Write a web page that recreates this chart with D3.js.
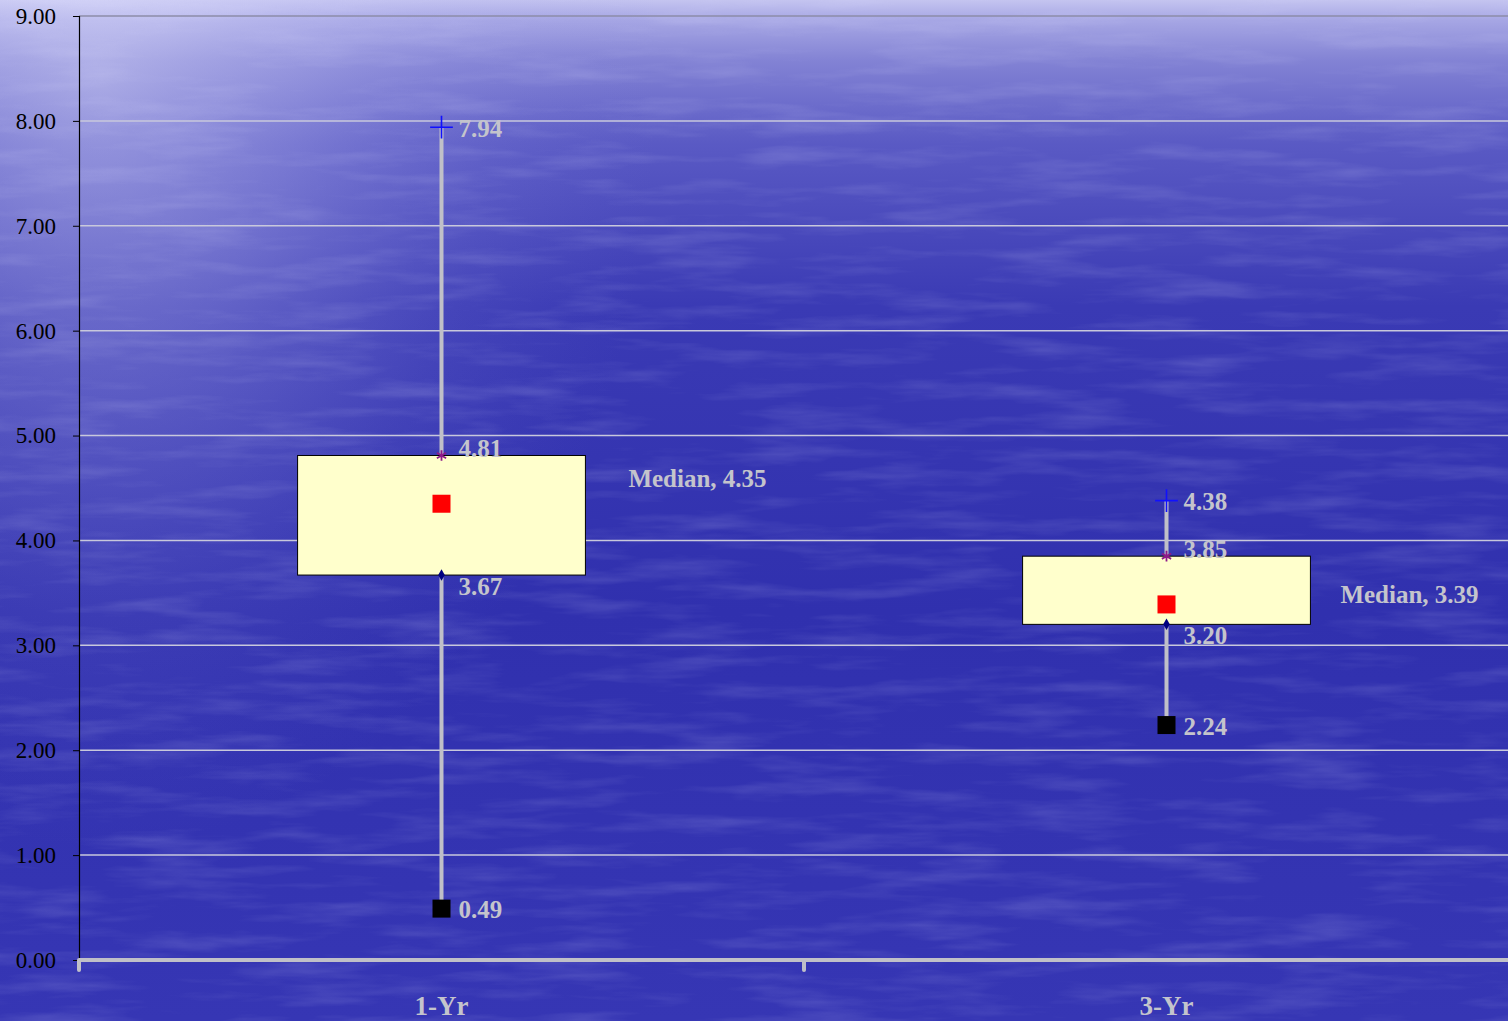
<!DOCTYPE html>
<html>
<head>
<meta charset="utf-8">
<script src="https://cdn.jsdelivr.net/npm/d3@7"></script>
<style>
  html, body { margin: 0; padding: 0; background: #3232b0; overflow: hidden; }
  svg { display: block; }
</style>
</head>
<body>
<svg id="chart" width="1508" height="1021"></svg>
<script>
// Box-plot statistics per horizon
const categories = ["1-Yr", "3-Yr"];
const maxVals    = [7.94, 4.38];
const q3Vals     = [4.81, 3.85];
const medianVals = [4.35, 3.39];
const q1Vals     = [3.67, 3.20];
const minVals    = [0.49, 2.24];
const yTicks     = [0, 1, 2, 3, 4, 5, 6, 7, 8, 9];

// label placement for the median call-outs (pixels from box edge / median)
const medianLabelDx = [43, 30];
const medianLabelDy = [-25, -10];

const W = 1508, H = 1021;
const svg = d3.select("#chart");
const serif = "'Liberation Serif', 'Times New Roman', serif";
const labelGray = "#c4c4cc";

// ---- background: sea-like blue with a bright haze in the top-left ----
const defs = svg.append("defs");
const lg = defs.append("linearGradient").attr("id", "sky")
  .attr("x1", 0).attr("y1", 0).attr("x2", 0).attr("y2", 1);
[[0, "#c4c4f0"], [0.02, "#a6a6e4"], [0.06, "#8282d4"], [0.14, "#5a5ac4"],
 [0.3, "#3a3ab4"], [0.6, "#3030ae"], [1, "#3636b4"]]
  .forEach(([o, c]) => lg.append("stop").attr("offset", o).attr("stop-color", c));

const rg = defs.append("radialGradient").attr("id", "haze")
  .attr("gradientUnits", "userSpaceOnUse")
  .attr("cx", 100).attr("cy", 80).attr("r", 700)
  .attr("gradientTransform", "translate(100,80) scale(0.8,1.1) translate(-100,-80)");
[[0, "#e8e8ff", 0.45], [0.35, "#d0d0fa", 0.28], [0.7, "#a8a8ee", 0.1], [1, "#8080e0", 0]]
  .forEach(([o, c, a]) => rg.append("stop").attr("offset", o)
    .attr("stop-color", c).attr("stop-opacity", a));

const ripple = defs.append("filter").attr("id", "ripple")
  .attr("x", 0).attr("y", 0).attr("width", 1).attr("height", 1);
ripple.append("feTurbulence").attr("type", "fractalNoise")
  .attr("baseFrequency", "0.008 0.06").attr("numOctaves", 4).attr("seed", 7);
ripple.append("feColorMatrix").attr("type", "matrix")
  .attr("values", "0 0 0 0 0.75  0 0 0 0 0.75  0 0 0 0 1  0 0 0 1.1 -0.5");

svg.append("rect").attr("width", W).attr("height", H).attr("fill", "url(#sky)");
svg.append("rect").attr("width", W).attr("height", H).attr("fill", "url(#haze)");
svg.append("rect").attr("width", W).attr("height", H)
  .attr("filter", "url(#ripple)").attr("opacity", 0.3);

// ---- scales ----
const x = d3.scaleBand().domain(categories).range([79, 1529]).paddingInner(0).paddingOuter(0);
const y = d3.scaleLinear().domain([0, 9]).range([960, 16]);
const cx = c => x(c) + x.bandwidth() / 2;
const boxW = x.bandwidth() * 0.397;

// ---- gridlines ----
svg.append("g").selectAll("line").data(yTicks.filter(t => t > 0)).join("line")
  .attr("x1", 79).attr("x2", W)
  .attr("y1", d => y(d)).attr("y2", d => y(d))
  .attr("stroke", d => d === 9 ? "#8c8ca8" : "#c8c8dc")
  .attr("stroke-width", 1.5);

// ---- y axis ----
const yAxis = svg.append("g").attr("transform", "translate(79,0)")
  .call(d3.axisLeft(y).tickValues(yTicks).tickFormat(d3.format(".2f"))
    .tickSize(6).tickPadding(17));
yAxis.select(".domain").attr("stroke", "#000").attr("stroke-width", 1.2);
yAxis.selectAll(".tick line").attr("stroke", "#000");
yAxis.selectAll("text").attr("font-family", serif).attr("font-size", 23)
  .attr("fill", "#000");

// ---- whiskers (behind boxes) ----
const idx = categories.map((c, i) => i);
svg.append("g").selectAll("line").data(idx).join("line")
  .attr("x1", i => cx(categories[i])).attr("x2", i => cx(categories[i]))
  .attr("y1", i => y(maxVals[i])).attr("y2", i => y(minVals[i]))
  .attr("stroke", "#c0c0c8").attr("stroke-width", 4);

// ---- boxes ----
svg.append("g").selectAll("rect").data(idx).join("rect")
  .attr("x", i => cx(categories[i]) - boxW / 2)
  .attr("width", boxW)
  .attr("y", i => y(q3Vals[i]))
  .attr("height", i => y(q1Vals[i]) - y(q3Vals[i]))
  .attr("fill", "#ffffcc").attr("stroke", "#000").attr("stroke-width", 1);

// ---- x axis ----
svg.append("line").attr("x1", 79).attr("x2", W).attr("y1", y(0)).attr("y2", y(0))
  .attr("stroke", "#c0c0c8").attr("stroke-width", 4);
svg.append("g").selectAll("line").data(categories).join("line")
  .attr("x1", c => x(c)).attr("x2", c => x(c))
  .attr("y1", y(0)).attr("y2", y(0) + 10)
  .attr("stroke", "#c0c0c8").attr("stroke-width", 4).attr("stroke-linecap", "round");
svg.append("g").selectAll("text").data(categories).join("text")
  .attr("x", c => cx(c)).attr("y", 1015)
  .attr("text-anchor", "middle")
  .attr("font-family", serif).attr("font-weight", "bold").attr("font-size", 27)
  .attr("fill", labelGray).text(c => c);

// ---- markers ----
const sym = (t, s) => d3.symbol().type(t).size(s)();
const gM = svg.append("g");
// maximum: plus
gM.selectAll(".max").data(idx).join("path")
  .attr("transform", i => `translate(${cx(categories[i])},${y(maxVals[i])})`)
  .attr("d", sym(d3.symbolPlus || d3.symbolCross, 170))
  .attr("fill", "none").attr("stroke", "#1010ff").attr("stroke-width", 1.6);
// upper quartile: asterisk
gM.selectAll(".q3").data(idx).join("path")
  .attr("transform", i => `translate(${cx(categories[i])},${y(q3Vals[i])})`)
  .attr("d", sym(d3.symbolAsterisk || d3.symbolCross, 80))
  .attr("fill", "none").attr("stroke", "#8e1a8a").attr("stroke-width", 1.8);
// lower quartile: diamond
gM.selectAll(".q1").data(idx).join("path")
  .attr("transform", i => `translate(${cx(categories[i])},${y(q1Vals[i])})`)
  .attr("d", sym(d3.symbolDiamond, 38))
  .attr("fill", "#000080");
// minimum: black square
gM.selectAll(".min").data(idx).join("rect")
  .attr("x", i => cx(categories[i]) - 9).attr("y", i => y(minVals[i]) - 9)
  .attr("width", 18).attr("height", 18).attr("fill", "#000");
// median: red square
gM.selectAll(".med").data(idx).join("rect")
  .attr("x", i => cx(categories[i]) - 9).attr("y", i => y(medianVals[i]) - 9)
  .attr("width", 18).attr("height", 18).attr("fill", "#ff0000");

// ---- value labels ----
const lab = svg.append("g").attr("font-family", serif).attr("font-weight", "bold")
  .attr("font-size", 25).attr("fill", labelGray).attr("dominant-baseline", "central");
const fmt = d3.format(".2f");
const addLabels = (vals, dy) => lab.append("g").selectAll("text").data(idx).join("text")
  .attr("x", i => cx(categories[i]) + 17)
  .attr("y", i => y(vals[i]) + dy)
  .text(i => fmt(vals[i]));
addLabels(maxVals, 1);
addLabels(q3Vals, -7);
addLabels(q1Vals, 11);
addLabels(minVals, 1);

// median labels to the right of each box
lab.append("g").selectAll("text").data(idx).join("text")
  .attr("x", i => cx(categories[i]) + boxW / 2 + medianLabelDx[i])
  .attr("y", i => y(medianVals[i]) + medianLabelDy[i])
  .text(i => `Median, ${fmt(medianVals[i])}`);
</script>
</body>
</html>
